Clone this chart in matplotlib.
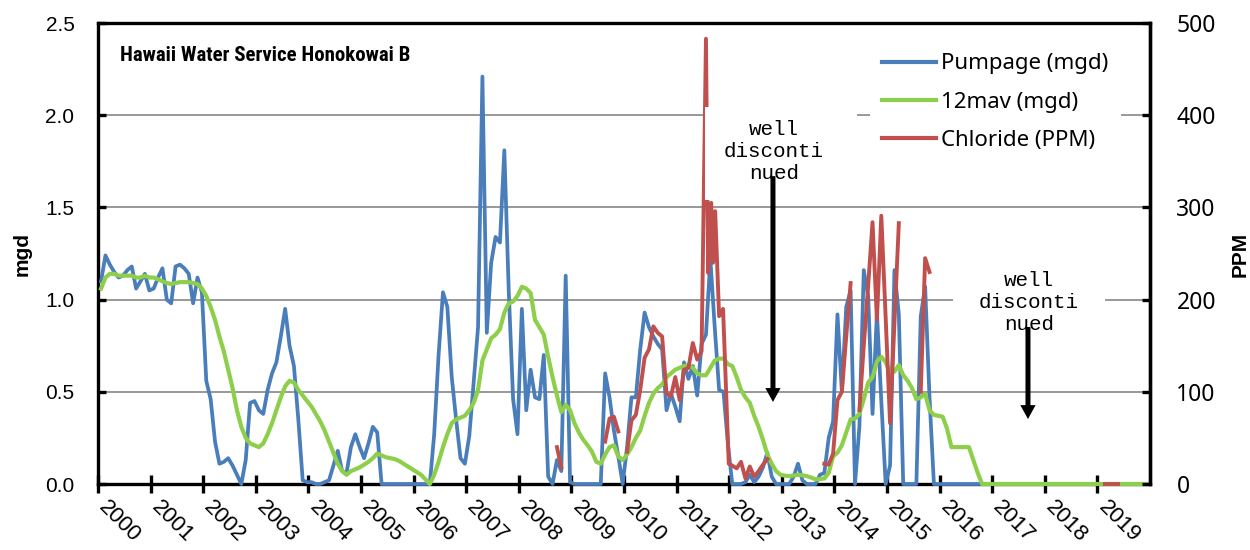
import matplotlib
matplotlib.use("Agg")
import matplotlib.pyplot as plt
import matplotlib.patches as patches
from matplotlib import font_manager as fm
from matplotlib.lines import Line2D
import numpy as np

plt.rcParams['font.family'] = ['Liberation Sans', 'DejaVu Sans']

# monthly pumpage Jan 2000 .. Dec 2019 (mgd)
pumpage = [
	1.10, 1.24, 1.19, 1.15, 1.12, 1.13, 1.16, 1.18, 1.06, 1.10, 1.14, 1.05,  # 2000
	1.06, 1.12, 1.17, 1.00, 0.98, 1.18, 1.19, 1.17, 1.14, 0.98, 1.12, 1.04,  # 2001
	0.56, 0.46, 0.23, 0.11, 0.12, 0.14, 0.10, 0.05, 0.00, 0.13, 0.44, 0.45,  # 2002
	0.40, 0.38, 0.51, 0.60, 0.66, 0.80, 0.95, 0.75, 0.64, 0.35, 0.02, 0.01,  # 2003
	0.01, 0.00, 0.00, 0.01, 0.02, 0.10, 0.18, 0.07, 0.06, 0.20, 0.27, 0.20,  # 2004
	0.14, 0.22, 0.31, 0.28, 0.00, 0.00, 0.00, 0.00, 0.00, 0.00, 0.00, 0.00,  # 2005
	0.00, 0.00, 0.00, 0.00, 0.27, 0.70, 1.04, 0.96, 0.58, 0.35, 0.14, 0.11,  # 2006
	0.26, 0.55, 0.85, 2.21, 0.82, 1.20, 1.34, 1.31, 1.81, 1.05, 0.46, 0.27,  # 2007
	0.95, 0.40, 0.62, 0.47, 0.46, 0.70, 0.04, 0.00, 0.13, 0.07, 1.13, 0.01,  # 2008
	0.00, 0.00, 0.00, 0.00, 0.00, 0.00, 0.00, 0.60, 0.47, 0.29, 0.15, 0.00,  # 2009
	0.20, 0.47, 0.47, 0.73, 0.93, 0.85, 0.80, 0.76, 0.73, 0.40, 0.49, 0.42,  # 2010
	0.34, 0.66, 0.57, 0.64, 0.48, 0.76, 0.81, 1.22, 0.85, 0.51, 0.50, 0.22,  # 2011
	0.00, 0.00, 0.00, 0.01, 0.05, 0.01, 0.04, 0.09, 0.17, 0.04, 0.00, 0.00,  # 2012
	0.00, 0.00, 0.04, 0.11, 0.02, 0.00, 0.00, 0.00, 0.05, 0.06, 0.25, 0.34,  # 2013
	0.92, 0.50, 0.96, 1.05, 0.00, 0.31, 1.16, 1.02, 0.38, 0.93, 0.45, 0.00,  # 2014
	0.10, 1.16, 0.92, 0.00, 0.00, 0.00, 0.00, 0.91, 1.07, 0.47, 0.00, 0.00,  # 2015
	0.00, 0.00, 0.00, 0.00, 0.00, 0.00, 0.00, 0.00, 0.00, 0.00, 0.00, 0.00,  # 2016
	0.00, 0.00, 0.00, 0.00, 0.00, 0.00, 0.00, 0.00, 0.00, 0.00, 0.00, 0.00,  # 2017
	0.00, 0.00, 0.00, 0.00, 0.00, 0.00, 0.00, 0.00, 0.00, 0.00, 0.00, 0.00,  # 2018
	0.00, 0.00, 0.00, 0.00, 0.00, 0.00, 0.00, 0.00, 0.00, 0.00, 0.00, 0.00,  # 2019
]

# 12 month moving average (mgd)
mav12 = [
	1.06, 1.12, 1.14, 1.14, 1.13, 1.13, 1.13, 1.13, 1.12, 1.12, 1.13, 1.12,  # 2000
	1.12, 1.11, 1.10, 1.09, 1.085, 1.09, 1.095, 1.095, 1.095, 1.09, 1.085, 1.06,  # 2001
	1.02, 0.96, 0.89, 0.80, 0.72, 0.62, 0.52, 0.40, 0.31, 0.25, 0.22, 0.21,  # 2002
	0.20, 0.22, 0.27, 0.33, 0.40, 0.47, 0.53, 0.56, 0.55, 0.51, 0.48, 0.45,  # 2003
	0.42, 0.38, 0.34, 0.29, 0.23, 0.17, 0.11, 0.07, 0.05, 0.07, 0.08, 0.09,  # 2004
	0.105, 0.12, 0.14, 0.165, 0.155, 0.145, 0.14, 0.135, 0.125, 0.11, 0.095, 0.08,  # 2005
	0.065, 0.05, 0.025, 0.00, 0.05, 0.12, 0.20, 0.27, 0.33, 0.35, 0.36, 0.37,  # 2006
	0.40, 0.44, 0.51, 0.67, 0.73, 0.79, 0.81, 0.84, 0.93, 0.98, 0.99, 1.02,  # 2007
	1.07, 1.06, 1.036, 0.89, 0.85, 0.81, 0.69, 0.58, 0.48, 0.39, 0.43, 0.40,  # 2008
	0.33, 0.28, 0.24, 0.21, 0.175, 0.12, 0.11, 0.16, 0.20, 0.21, 0.15, 0.13,  # 2009
	0.16, 0.20, 0.25, 0.29, 0.37, 0.44, 0.49, 0.52, 0.54, 0.58, 0.60, 0.62,  # 2010
	0.63, 0.64, 0.645, 0.63, 0.60, 0.59, 0.59, 0.63, 0.67, 0.68, 0.68, 0.65,  # 2011
	0.64, 0.58, 0.51, 0.47, 0.44, 0.37, 0.31, 0.24, 0.16, 0.11, 0.07, 0.05,  # 2012
	0.045, 0.043, 0.046, 0.05, 0.047, 0.043, 0.035, 0.025, 0.027, 0.03, 0.06, 0.15,  # 2013
	0.17, 0.21, 0.28, 0.35, 0.355, 0.38, 0.46, 0.55, 0.58, 0.665, 0.69, 0.66,  # 2014
	0.60, 0.61, 0.645, 0.59, 0.56, 0.52, 0.46, 0.47, 0.49, 0.40, 0.375, 0.37,  # 2015
	0.365, 0.30, 0.20, 0.20, 0.20, 0.20, 0.20, 0.13, 0.06, 0.00, 0.00, 0.00,  # 2016
	0.00, 0.00, 0.00, 0.00, 0.00, 0.00, 0.00, 0.00, 0.00, 0.00, 0.00, 0.00,  # 2017
	0.00, 0.00, 0.00, 0.00, 0.00, 0.00, 0.00, 0.00, 0.00, 0.00, 0.00, 0.00,  # 2018
	0.00, 0.00, 0.00, 0.00, 0.00, 0.00, 0.00, 0.00, 0.00, 0.00, 0.00, 0.00,  # 2019
]

# chloride samples: month index from Jan 2000, value in PPM (nan = gap)
nan = np.nan
chloride_month = [
	104, 105, nan,
	115, 116, 117, 118, nan,
	120, 121, 122, 123, 124, 125, 126, 127, 128, 129, 130, 131, 132, 133, 134, 135, 136, 137,
	138, 138.5, 139.2, 139.6, 140.1, 141, 141.9, 143.2,
	144, 145, 146, 147, 148, 149, 150, 151, 152, nan,
	165, 166, 167, 168, 169, 170, 171, nan,
	173, 174, 175, 176, 177, 178, 179, 180, 181, 182, nan,
	187, 188, 189, nan,
	229, 230, 231, 232,
]
chloride_ppm = [
	40, 18, nan,
	46, 71, 73, 57, nan,
	35, 69, 75, 102, 137, 146, 171, 164, 160, 98, 95, 116, 91, 124, 126, 153, 135, 144,
	483, 229, 305, 240, 296, 182, 190, 22,
	20, 17, 24, 6, 19, 8, 14, 21, 27, nan,
	22, 21, 33, 91, 100, 160, 218, nan,
	80, 150, 215, 284, 178, 291, 180, 66, 175, 283, nan,
	100, 245, 230, nan,
	0, 0, 0, 0,
]

years = list(range(2000, 2020))
labels = ["Pumpage (mgd)", "12mav (mgd)", "Chloride (PPM)"]
title = "Hawaii Water Service Honokowai B"
note = "well\ndisconti\nnued"

blue = "#4A7EBB"
green = "#8DCF4A"
red = "#C0504D"


def month_to_year(m):
	return 2000 + (np.asarray(m, dtype=float) + 0.7) / 12.0


def narrow_bold():
	# the title is set in a narrow bold face; use one if the machine has it
	for fam, stretch in [("Liberation Sans Narrow", "normal"), ("Arial Narrow", "normal"),
			("Roboto Condensed", "normal"), ("Noto Sans", "condensed"),
			("DejaVu Sans", "condensed")]:
		try:
			path = fm.findfont(fm.FontProperties(family=fam, stretch=stretch, weight="bold"),
				fallback_to_default=False)
		except Exception:
			continue
		if fam.split()[0].lower() not in path.lower():
			continue
		if stretch == "condensed" and "condensed" not in path.lower():
			continue
		return dict(family=fam, stretch=stretch, fontsize=15)
	return dict(family="Liberation Sans", fontsize=13.5)


t = month_to_year(np.arange(len(pumpage)))
t_cl = month_to_year(chloride_month)

fig = plt.figure(figsize=(12.5, 5.5), dpi=100)
fig.subplots_adjust(left=0.0784, right=0.92, bottom=0.12, top=0.958)
ax = fig.add_subplot(111)
ax2 = ax.twinx()

ax.plot(t, pumpage, color=blue, lw=2.7, zorder=3, clip_on=False)
ax.plot(t, mav12, color=green, lw=3.0, zorder=3.1, clip_on=False)
ax2.plot(t_cl, chloride_ppm, color=red, lw=2.8, zorder=3, clip_on=False)

ax.set_xlim(2000, 2020)
ax.set_ylim(0, 2.5)
ax2.set_ylim(0, 500)

ax.set_yticks(np.arange(0, 2.51, 0.5))
ax.set_yticklabels([f"{v:.1f}" for v in np.arange(0, 2.51, 0.5)])
ax2.set_yticks(np.arange(0, 501, 100))
ax.set_xticks(years)
ax.set_xticklabels([str(y) for y in years], rotation=-45, ha='left', va='baseline',
	rotation_mode='anchor')

ax.set_axisbelow(True)
ax.grid(axis='y', color='#868686', lw=1.2)
ax.grid(axis='x', visible=False)

for s in ax.spines.values():
	s.set_linewidth(2.4)
	s.set_color('black')
for name in ("left", "top", "bottom"):
	ax2.spines[name].set_visible(False)
ax2.spines['right'].set_linewidth(2.4)

ax.tick_params(axis='y', direction='in', length=6, width=2.4, pad=17, labelsize=15)
ax.tick_params(axis='x', direction='inout', length=13, width=2.4, pad=11, labelsize=16)
ax2.tick_params(axis='y', direction='in', length=6, width=2.4, pad=19, labelsize=16.5,
	labelfontfamily='Noto Sans')

fig.text(22 / 1250, 1 - 254 / 550, "mgd", rotation=90, ha='center', va='center',
	fontsize=15, fontweight='bold')
fig.text(1240 / 1250, 1 - 254 / 550, "PPM", rotation=90, ha='center', va='center',
	fontsize=15, fontweight='bold')

ax2.text(0.0209, 0.9176, title, transform=ax2.transAxes, ha='left', va='baseline',
	fontweight='bold', zorder=6, **narrow_bold())

# white boxes with the notes
for (x0, y0, w, h), (tx, ty), (ax_x, ay0, ay1) in [
	((0.577, 0.616, 0.1445, 0.202), (0.6425, 0.721), (0.6416, 0.668, 0.178)),
	((0.8127, 0.293, 0.1443, 0.195), (0.885, 0.394), (0.884, 0.3406, 0.141)),
]:
	ax2.add_patch(patches.Rectangle((x0, y0), w, h, transform=ax2.transAxes,
		facecolor='white', edgecolor='none', zorder=5))
	ax2.text(tx, ty, note, transform=ax2.transAxes, ha='center', va='center',
		multialignment='center', family='Liberation Mono', fontsize=15,
		linespacing=1.2, zorder=6)
	ax2.annotate('', xy=(ax_x, ay1), xytext=(ax_x, ay0), xycoords='axes fraction',
		textcoords='axes fraction',
		arrowprops=dict(width=3.6, headwidth=11, headlength=10, facecolor='black',
			edgecolor='black', lw=0, shrink=0), zorder=7)

handles = [Line2D([], [], color=blue, lw=3),
	Line2D([], [], color=green, lw=3),
	Line2D([], [], color=red, lw=3)]
leg = ax2.legend(handles, labels, loc='upper left', bbox_to_anchor=(0.734, 0.961),
	frameon=True, facecolor='white', edgecolor='none', framealpha=1, fancybox=False,
	prop={'family': 'Noto Sans', 'size': 16}, handlelength=2.4, handletextpad=0.25,
	labelspacing=0.78, borderpad=0.55, borderaxespad=0)
leg.set_zorder(8)

fig.savefig("out.png", dpi=100)
